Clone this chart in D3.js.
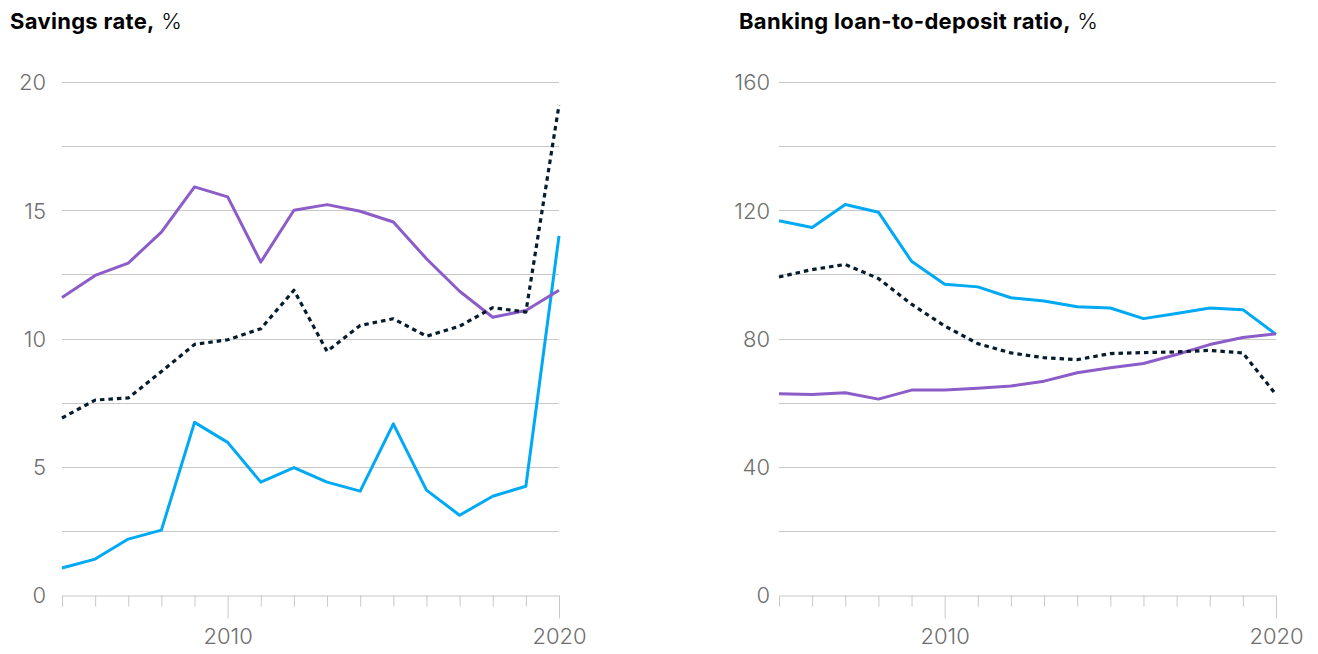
<!DOCTYPE html>
<html lang="en">

<head>
    <meta charset="utf-8">
    <style type="text/css">
        body { margin: 0; background: #fff; }
        .title { font-family: Inter, "Liberation Sans", sans-serif; font-size: 22px; letter-spacing: 0.3px; fill: #000; }
        .title .bold { font-weight: 700; }
        .title .unit { font-weight: 300; }
        .tick text { font-family: Inter, "Liberation Sans", sans-serif; font-weight: 300; font-size: 22px; fill: #6e6e6e; }
        .grid line { stroke: #c8c8c8; stroke-width: 1; }
        .xaxis path, .xaxis line { stroke: #c8c8c8; stroke-width: 1; }
    </style>
</head>

<body>
    <svg width="1318" height="654"></svg>
    <script src="https://d3js.org/d3.v7.min.js" type="text/javascript"></script>

    <script type="text/javascript">
        // data
        var years = d3.range(2005, 2021);

        var savingsPurple = [11.6, 12.46, 12.94, 14.15, 15.91, 15.52, 12.98, 15.0, 15.22, 14.96, 14.54, 13.11, 11.84, 10.83, 11.09, 11.88];
        var savingsDotted = [6.9, 7.6, 7.68, 8.71, 9.77, 9.95, 10.38, 11.88, 9.5, 10.51, 10.77, 10.09, 10.48, 11.2, 11.03, 19.1];
        var savingsBlue = [1.05, 1.4, 2.18, 2.53, 6.73, 5.95, 4.4, 4.97, 4.4, 4.05, 6.67, 4.09, 3.11, 3.85, 4.24, 14.0];

        var ldrBlue = [116.7, 114.6, 121.8, 119.4, 104.1, 96.9, 96.1, 92.7, 91.7, 89.9, 89.5, 86.2, 87.8, 89.5, 89.0, 81.3];
        var ldrDotted = [99.2, 101.5, 103.1, 98.7, 90.7, 83.9, 78.4, 75.5, 74.0, 73.4, 75.3, 75.6, 75.8, 76.3, 75.5, 62.5];
        var ldrPurple = [62.8, 62.5, 63.1, 61.1, 63.9, 63.9, 64.5, 65.2, 66.7, 69.3, 70.9, 72.2, 75.0, 78.1, 80.3, 81.5];

        var savingsTicks = [0, 5, 10, 15, 20];
        var ldrTicks = [0, 40, 80, 120, 160];

        var purple = "#8c5cc8",
            blue = "#00a9f4",
            navy = "#051c2c";

        var svg = d3.select("svg");

        function panel(opts) {
            var x = d3.scaleLinear().domain([2005, 2020]).range([opts.left, opts.left + 497]);
            var y = d3.scaleLinear().domain([0, opts.max]).range([595, 82]);

            var g = svg.append("g");

            // title
            var t = g.append("text")
                .attr("class", "title")
                .attr("x", opts.titleX)
                .attr("y", 29);
            t.append("tspan").attr("class", "bold").text(opts.title);
            t.append("tspan").attr("class", "unit").text(" %");

            // gridlines every half step
            var gridVals = d3.range(opts.max / 8, opts.max + 0.001, opts.max / 8);
            g.append("g")
                .attr("class", "grid")
                .selectAll("line")
                .data(gridVals)
                .enter()
                .append("line")
                .attr("x1", x(2005))
                .attr("x2", x(2020))
                .attr("y1", function (d) { return Math.round(y(d)) + 0.5; })
                .attr("y2", function (d) { return Math.round(y(d)) + 0.5; });

            // y labels
            var yAxis = g.append("g")
                .attr("transform", "translate(" + (opts.left - opts.labelGap) + ",0)")
                .call(d3.axisLeft(y).tickValues(opts.ticks).tickSize(0).tickPadding(0));
            yAxis.select(".domain").remove();
            yAxis.selectAll(".tick text").attr("dy", "0.36em");

            // x axis with minor ticks
            var xAxis = g.append("g")
                .attr("class", "xaxis")
                .attr("transform", "translate(0," + (Math.round(y(0)) + 0.5) + ")")
                .call(d3.axisBottom(x).tickValues(years).tickSizeOuter(0)
                    .tickSize(11)
                    .tickFormat(function (d) { return d % 10 === 0 ? d : ""; }));
            xAxis.selectAll(".tick line")
                .attr("y2", function (d) { return d % 10 === 0 ? 23 : 11; });
            xAxis.selectAll(".tick text").attr("y", 33);

            var line = d3.line()
                .x(function (d, i) { return x(years[i]); })
                .y(function (d) { return y(d); });

            opts.series.forEach(function (s) {
                g.append("path")
                    .datum(s.values)
                    .attr("fill", "none")
                    .attr("stroke", s.color)
                    .attr("stroke-width", s.dash ? 3.2 : 3)
                    .attr("stroke-dasharray", s.dash ? "4.5,4" : null)
                    .attr("stroke-linejoin", "round")
                    .attr("d", line);
            });
        }

        panel({
            left: 62, max: 20, ticks: savingsTicks, labelGap: 16,
            title: "Savings rate,", titleX: 10,
            series: [
                { values: savingsBlue, color: blue },
                { values: savingsPurple, color: purple },
                { values: savingsDotted, color: navy, dash: true }
            ]
        });

        panel({
            left: 779, max: 160, ticks: ldrTicks, labelGap: 9,
            title: "Banking loan-to-deposit ratio,", titleX: 739,
            series: [
                { values: ldrBlue, color: blue },
                { values: ldrPurple, color: purple },
                { values: ldrDotted, color: navy, dash: true }
            ]
        });
    </script>

</body>

</html>
